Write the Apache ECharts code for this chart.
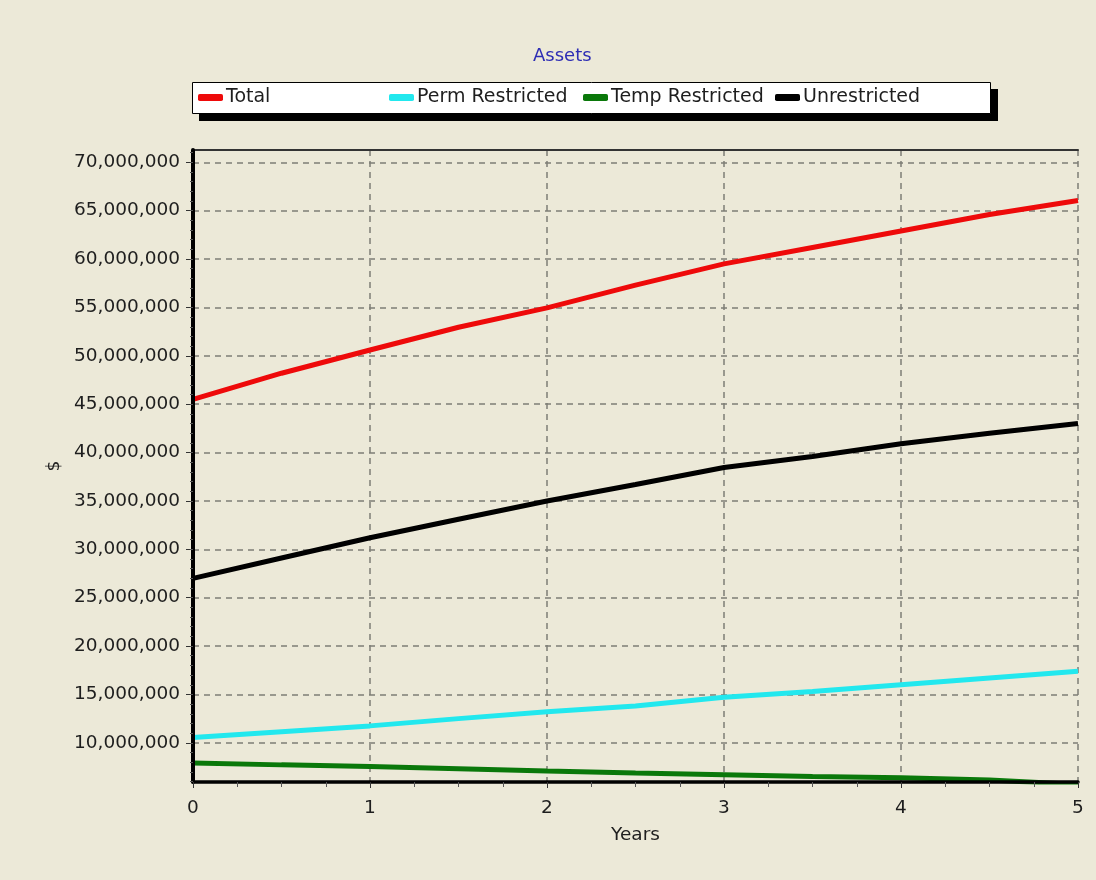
<!DOCTYPE html>
<html>
<head>
<meta charset="utf-8">
<script src="https://cdn.jsdelivr.net/npm/echarts@6/dist/echarts.min.js"></script>
<style>
html,body{margin:0;padding:0;background:#ece9d8;}
#chart{width:1096px;height:880px;}
</style>
</head>
<body>
<div id="chart"></div>
<script>
// ---- data ----
var titleText = 'Assets';
var xName = 'Years';
var yName = '$';
var years = [0, 0.5, 1, 1.5, 2, 2.5, 3, 3.5, 4, 4.5, 5];
var seriesNames = ['Total', 'Perm Restricted', 'Temp Restricted', 'Unrestricted'];
var total        = [45.5, 48.2, 50.6, 52.95, 54.95, 57.3, 59.5, 61.2, 62.9, 64.6, 66.05];
var permRestr    = [10.55, 11.15, 11.75, 12.5, 13.2, 13.8, 14.7, 15.3, 16.0, 16.7, 17.4];
var tempRestr    = [7.92, 7.72, 7.56, 7.33, 7.08, 6.88, 6.71, 6.53, 6.38, 6.15, 5.7];
var unrestricted = [27.0, 29.1, 31.2, 33.1, 35.0, 36.7, 38.45, 39.6, 40.9, 42.0, 43.0];
var yTickValues = [10, 15, 20, 25, 30, 35, 40, 45, 50, 55, 60, 65, 70]; // millions
var yMin = 5.95, yMax = 71.27; // millions
var xTickLabels = ['0', '1', '2', '3', '4', '5'];

var M = 1000000;
function pairs(arr) { return years.map(function (x, i) { return [x, arr[i] * M]; }); }
var yMinor = [];
for (var v = 6; v <= 71; v++) yMinor.push(v * M);

var FONT = 'DejaVu Sans';
var TXT = '#1e1e1e';
var colors = ['#ee0a0a', '#22e8ee', '#0a780a', '#000000'];
var gridColor = '#7d7d75';

function legendAt(name, left) {
  return {
    data: [name], left: left, top: 88, orient: 'horizontal',
    icon: 'roundRect', itemWidth: 25, itemHeight: 7, itemGap: 0,
    textStyle: { fontFamily: FONT, fontSize: 19, color: TXT, padding: [0, 0, 0, -2] },
    selectedMode: false, padding: 0
  };
}

var chart = echarts.init(document.getElementById('chart'));
chart.setOption({
  backgroundColor: '#ece9d8',
  animation: false,
  color: colors,
  title: {
    text: titleText, left: 528, top: 42,
    textStyle: { fontFamily: FONT, fontSize: 18, fontWeight: 'normal', color: '#2d2db4' }
  },
  graphic: [
    { type: 'rect', shape: { x: 199, y: 89, width: 799, height: 32 }, style: { fill: '#000' }, z: 0 },
    { type: 'rect', shape: { x: 192.5, y: 82.5, width: 798, height: 31 }, style: { fill: '#fff', stroke: '#000', lineWidth: 1 }, z: 1 }
  ],
  legend: [
    legendAt(seriesNames[0], 198),
    legendAt(seriesNames[1], 389),
    legendAt(seriesNames[2], 583),
    legendAt(seriesNames[3], 775)
  ],
  grid: { left: 193, right: 18, top: 150, bottom: 98, containLabel: false },
  xAxis: [{
    type: 'value', min: 0, max: 5, interval: 1, position: 'bottom', z: 10,
    name: xName, nameLocation: 'middle', nameGap: 44,
    nameTextStyle: { fontFamily: FONT, fontSize: 18.5, color: TXT },
    axisLine: { show: true, onZero: false, lineStyle: { color: '#000', width: 3.5 } },
    axisTick: { show: true, length: 6, lineStyle: { color: '#333', width: 1 } },
    minorTick: { show: true, splitNumber: 4, length: 5, lineStyle: { color: '#555', width: 1 } },
    axisLabel: { margin: 17, fontFamily: FONT, fontSize: 18.5, color: TXT,
      formatter: function (val) { return xTickLabels[Math.round(val)]; } },
    splitLine: { show: false }
  }, {
    type: 'value', min: 0, max: 5, interval: 1, position: 'top', z: 0,
    axisLine: { show: true, onZero: false, lineStyle: { color: '#333', width: 2 } },
    axisTick: { show: false }, axisLabel: { show: false },
    splitLine: { show: true, lineStyle: { color: gridColor, type: [6, 5], width: 1.5 } }
  }],
  yAxis: [{
    type: 'value', min: yMin * M, max: yMax * M, position: 'left', z: 0,
    name: yName, nameLocation: 'middle', nameGap: 119, nameRotate: 90,
    nameTextStyle: { fontFamily: FONT, fontSize: 17, color: TXT },
    axisLine: { show: false },
    axisTick: { show: true, length: 7, customValues: yTickValues.map(function (t) { return t * M; }),
      lineStyle: { color: '#333', width: 1 } },
    axisLabel: { margin: 13, fontFamily: FONT, fontSize: 18.5, color: TXT,
      customValues: yTickValues.map(function (t) { return t * M; }),
      formatter: function (val) { return Math.round(val).toLocaleString('en-US'); } },
    splitLine: { show: true, lineStyle: { color: gridColor, type: [6, 5], width: 1.5 } }
  }, {
    type: 'value', min: yMin * M, max: yMax * M, position: 'left', z: 10,
    axisLine: { show: true, onZero: false, lineStyle: { color: '#000', width: 4 } },
    axisTick: { show: true, length: 3, customValues: yMinor, lineStyle: { color: '#555', width: 1 } },
    axisLabel: { show: false }, splitLine: { show: false }
  }],
  series: [
    { name: seriesNames[0], type: 'line', data: pairs(total), showSymbol: false, lineStyle: { width: 5, color: colors[0] }, z: 1 },
    { name: seriesNames[1], type: 'line', data: pairs(permRestr), showSymbol: false, lineStyle: { width: 5, color: colors[1] }, z: 1 },
    { name: seriesNames[2], type: 'line', data: pairs(tempRestr), showSymbol: false, lineStyle: { width: 5, color: colors[2] }, z: 1 },
    { name: seriesNames[3], type: 'line', data: pairs(unrestricted), showSymbol: false, lineStyle: { width: 5, color: colors[3] }, z: 1 }
  ]
});
</script>
</body>
</html>
